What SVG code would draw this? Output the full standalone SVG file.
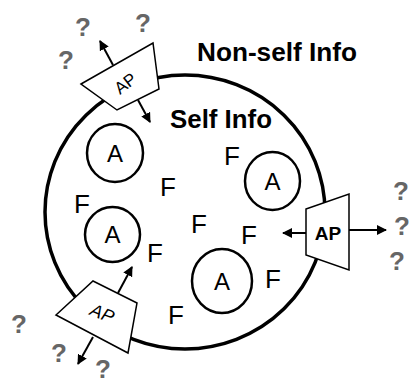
<svg xmlns="http://www.w3.org/2000/svg" width="411" height="385" viewBox="0 0 411 385">
<style>
.cell{fill:none;stroke:#000;stroke-width:3.5}
.a{fill:#fff;stroke:#000;stroke-width:2.5}
.ap{fill:#fff;stroke:#000;stroke-width:1.5}
.lbl{font-family:"Liberation Sans",Arial,sans-serif;fill:#000}
.q{font-family:"Liberation Sans",Arial,sans-serif;font-weight:bold;font-size:26px;fill:#666;text-anchor:middle}
.f{font-family:"Liberation Sans",Arial,sans-serif;font-size:26px;fill:#000}
.at{font-family:"Liberation Sans",Arial,sans-serif;font-size:24px;fill:#000;text-anchor:middle}
.arr{stroke:#000;stroke-width:2;fill:none;marker-end:url(#ah)}
</style>
<defs>
<marker id="ah" viewBox="0 0 10 10" refX="9" refY="5" markerWidth="5" markerHeight="5" orient="auto" markerUnits="strokeWidth">
<path d="M0,0 L10,5 L0,10 z" fill="#000"/>
</marker>
</defs>
<rect width="411" height="385" fill="#fff"/>
<g id="cell">
<ellipse class="cell" cx="185" cy="212" rx="140" ry="137"/>
</g>
<g id="labels">
<text class="lbl" x="197" y="61" font-size="25" font-weight="bold" textLength="160" lengthAdjust="spacingAndGlyphs">Non-self Info</text>
<text class="lbl" x="170" y="128" font-size="26" font-weight="bold" textLength="102" lengthAdjust="spacingAndGlyphs">Self Info</text>
</g>
<g id="connectors">
<line class="arr" x1="113" y1="65" x2="100" y2="41"/>
<line class="arr" x1="138" y1="100" x2="150" y2="122"/>
<line class="arr" x1="306" y1="233" x2="283" y2="233"/>
<line class="arr" x1="349" y1="230" x2="386" y2="230"/>
<line class="arr" x1="118" y1="293" x2="132" y2="267"/>
<line class="arr" x1="93" y1="337" x2="78" y2="364"/>
</g>
<g id="ap-top">
<polygon class="ap" points="81,84 153,43 159,89 117,110"/>
<text class="lbl" x="0" y="0" font-size="17" text-anchor="middle" transform="translate(129,88) rotate(-38)">AP</text>
</g>
<g id="ap-right">
<polygon class="ap" points="306,209 349,194 349,270 306,255"/>
<text class="lbl" x="328" y="240" font-size="19" font-weight="bold" text-anchor="middle">AP</text>
</g>
<g id="ap-bottom">
<polygon class="ap" points="56,315 93,281 137,303 128,353"/>
<text class="lbl" x="0" y="0" font-size="18" font-style="italic" text-anchor="middle" transform="translate(100,319) rotate(22)">AP</text>
</g>
<g id="a1"><ellipse class="a" cx="115" cy="153" rx="28" ry="29"/><text class="at" x="115" y="162">A</text></g>
<g id="a2"><ellipse class="a" cx="112.5" cy="234.5" rx="27.5" ry="27.5"/><text class="at" x="112.5" y="243">A</text></g>
<g id="a3"><ellipse class="a" cx="272.5" cy="181" rx="27.5" ry="29"/><text class="at" x="272.5" y="190">A</text></g>
<g id="a4"><ellipse class="a" cx="222" cy="281" rx="30" ry="32"/><text class="at" x="222" y="290">A</text></g>
<g id="fs">
<text class="f" x="224" y="165">F</text>
<text class="f" x="160" y="196">F</text>
<text class="f" x="74" y="213">F</text>
<text class="f" x="191" y="233">F</text>
<text class="f" x="241" y="244">F</text>
<text class="f" x="147" y="262">F</text>
<text class="f" x="265" y="288">F</text>
<text class="f" x="168" y="324">F</text>
</g>
<g id="questions">
<text class="q" x="83" y="36">?</text>
<text class="q" x="143" y="32">?</text>
<text class="q" x="66" y="69">?</text>
<text class="q" x="401" y="200">?</text>
<text class="q" x="402" y="235">?</text>
<text class="q" x="397" y="270">?</text>
<text class="q" x="19" y="333">?</text>
<text class="q" x="59" y="362">?</text>
<text class="q" x="103" y="378">?</text>
</g>
</svg>
